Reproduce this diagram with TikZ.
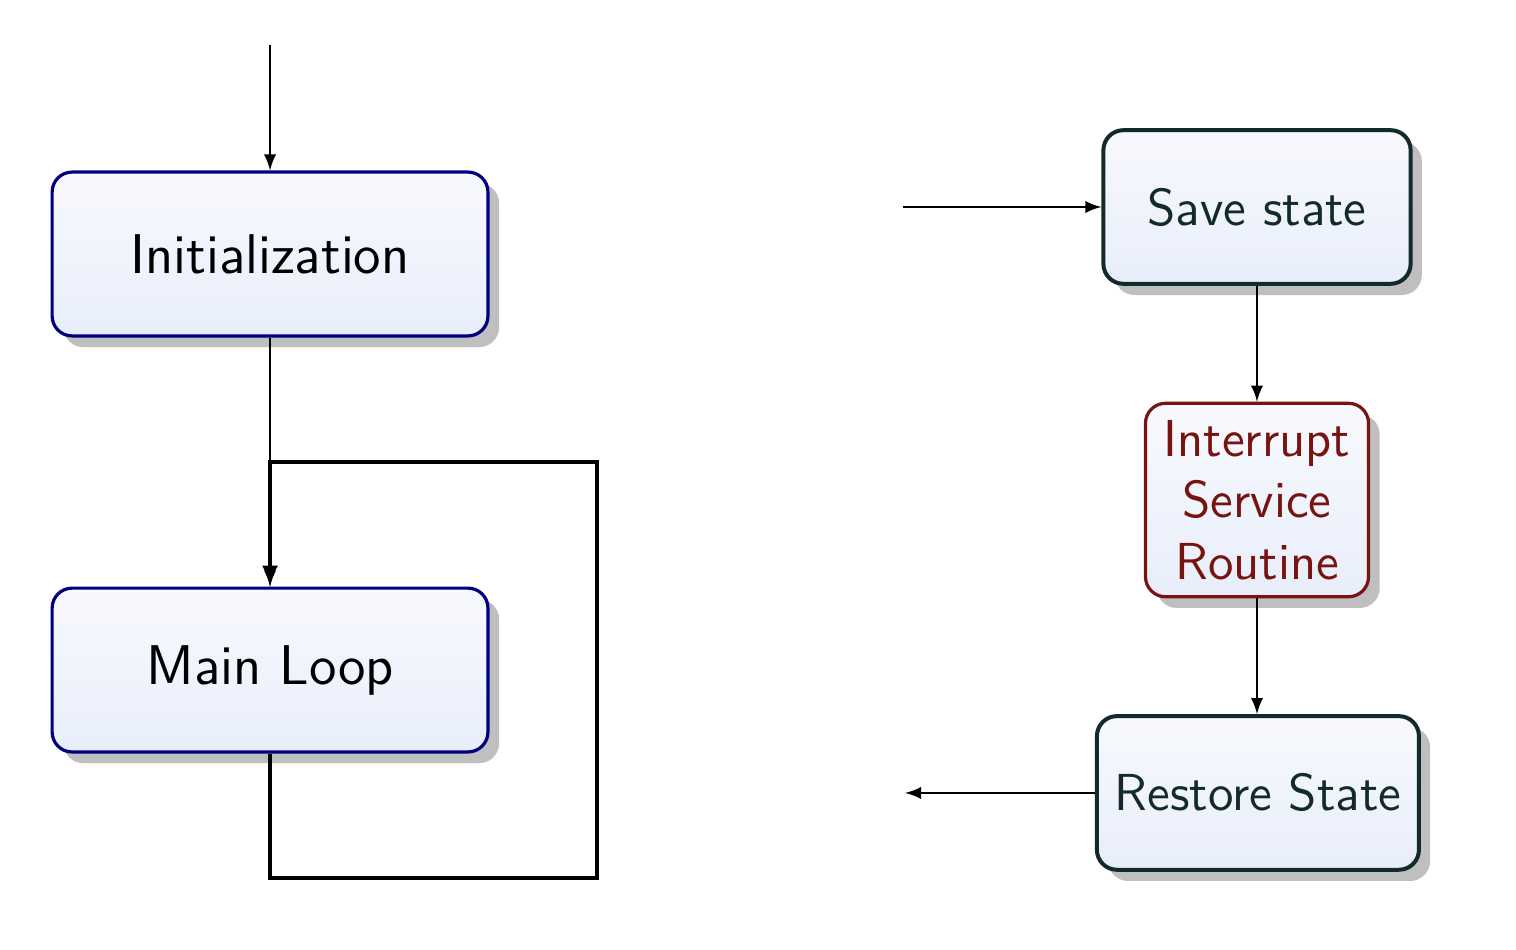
\documentclass[tikz,border=0pt]{standalone}
\usetikzlibrary{arrows,shadows,positioning}
\definecolor{isrred}{RGB}{120,20,16}
\definecolor{statecol}{RGB}{18,42,42}
\definecolor{shadetop}{RGB}{248,249,254}
\definecolor{shadebot}{RGB}{232,238,250}
\begin{document}
\begin{tikzpicture}[
    block/.style={rectangle,rounded corners=5pt,thick,draw=blue!50!black,
        top color=shadetop,bottom color=shadebot,
        drop shadow={opacity=1,fill=black!25,shadow xshift=2.8pt,shadow yshift=-2.8pt},
        font=\sffamily\fontsize{14}{17}\selectfont,minimum width=3.83cm,minimum height=1.44cm},
    stateblock/.style={block,draw=statecol,text=statecol,line width=1pt,
        font=\sffamily\fontsize{13}{15.3}\selectfont,minimum height=1.35cm},
    isrblock/.style={block,draw=isrred,text=isrred,font=\sffamily\fontsize{13}{15.3}\selectfont,
        align=center,minimum width=1.96cm,minimum height=1.7cm,inner sep=2pt}
]
    \useasboundingbox (0,0) rectangle (13.322,8.348);
    \node[block] (init) at (2.373,6.116) {Initialization};
    \node[block] (main) at (2.373,2.460) {Main Loop};
    \node[stateblock,minimum width=2.70cm] (save) at (11.046,6.529) {Save state};
    \node[isrblock] (isr) at (11.046,3.954) {Interrupt\\Service\\Routine};
    \node[stateblock,minimum width=2.83cm] (restore) at (11.054,1.380) {Restore State};
    \coordinate (start) at (2.373,7.953);
    \coordinate (irq) at (7.935,6.529);
    \coordinate (ret) at (7.953,1.380);
    \coordinate (lb) at (2.373,0.633);
    \coordinate (rb) at (5.246,0.633);
    \coordinate (rt) at (5.246,4.288);
    \coordinate (lt) at (2.373,4.288);
    \draw[-latex] (start) -- (init);
    \draw[-latex] (init) -- (main);
    \draw[thick,-latex] (main.south) -- (lb) -- (rb) -- (rt) -- (lt) -- (main.north);
    \draw[-latex] (irq) -- (save);
    \draw[-latex] (save) -- (isr);
    \draw[-latex] (isr.south) -- (restore.north -| isr.south);
    \draw[-latex] (restore) -- (ret);
\end{tikzpicture}
\end{document}
